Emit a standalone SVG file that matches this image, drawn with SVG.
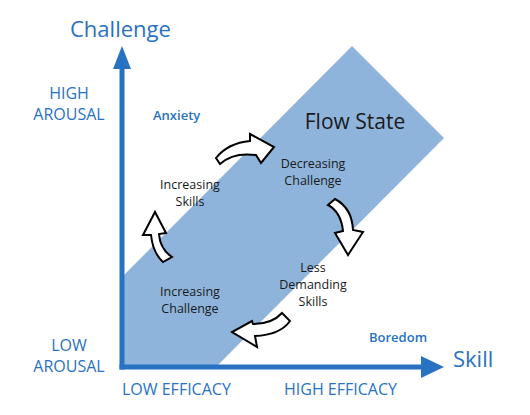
<svg xmlns="http://www.w3.org/2000/svg" width="530" height="415" viewBox="0 0 530 415">
<style>
.ax{fill:#2872c2;font-family:"Open Sans","Liberation Sans",sans-serif}
.big{font-size:22px}
.lbl{font-size:16px}
.sm{font-size:13px;font-weight:600}
.blk{fill:#1a1a1a;font-family:"Open Sans","Liberation Sans",sans-serif;font-size:12.5px;text-anchor:middle}
.arr{fill:#ffffff;stroke:#000000;stroke-width:2;stroke-linejoin:miter}
</style>
<rect width="530" height="415" fill="#ffffff"/>
<g id="flow-band">
<polygon points="122,277 352,46 444,138 216,367 122,367" fill="#8fb4db"/>
<text x="355" y="129" fill="#1a1a1a" font-family="'Open Sans','Liberation Sans',sans-serif" font-size="21" text-anchor="middle">Flow State</text>
</g>
<g id="axes">
<line x1="122" y1="369.5" x2="122" y2="66" stroke="#2872c2" stroke-width="5"/>
<polygon points="122,46 131,69 113,69" fill="#2872c2"/>
<line x1="119.5" y1="367" x2="424" y2="367" stroke="#2872c2" stroke-width="5"/>
<polygon points="444,367 421,356 421,378" fill="#2872c2"/>
<text class="ax big" x="70" y="37">Challenge</text>
<text class="ax big" x="453" y="367">Skill</text>
</g>
<g id="axis-labels">
<text class="ax lbl" x="69" y="99" text-anchor="middle">HIGH</text>
<text class="ax lbl" x="69" y="120" text-anchor="middle">AROUSAL</text>
<text class="ax lbl" x="69" y="351" text-anchor="middle">LOW</text>
<text class="ax lbl" x="69" y="372" text-anchor="middle">AROUSAL</text>
<text class="ax lbl" x="122" y="395">LOW EFFICACY</text>
<text class="ax lbl" x="284" y="395">HIGH EFFICACY</text>
</g>
<g id="anxiety"><text class="ax sm" x="153" y="120">Anxiety</text></g>
<g id="boredom"><text class="ax sm" x="369" y="342">Boredom</text></g>
<g id="decreasing-challenge">
<text class="blk" x="313" y="168">Decreasing</text>
<text class="blk" x="313" y="185">Challenge</text>
</g>
<g id="less-demanding-skills">
<text class="blk" x="313" y="272">Less</text>
<text class="blk" x="313" y="289">Demanding</text>
<text class="blk" x="313" y="306">Skills</text>
</g>
<g id="increasing-skills">
<text class="blk" x="190" y="189">Increasing</text>
<text class="blk" x="190" y="206">Skills</text>
</g>
<g id="increasing-challenge">
<text class="blk" x="190" y="296">Increasing</text>
<text class="blk" x="190" y="313">Challenge</text>
</g>
<g id="connectors">
<path class="arr" d="M216,158 Q228,143 250,141 L250,134 L274,147 L261,163 L256,155 Q233,152 220,164 Z"/>
<path class="arr" d="M335,199 Q352,208 353,230 L363,232 L348,255 L335,233 L343,231 Q341,212 328,205 Z"/>
<path class="arr" d="M282,313 Q272,324 253,324 L252,321 L232,332 L257,347 L255,336 Q280,335 290,321 Z"/>
<path class="arr" d="M151,235 Q153,253 163,262 L172,257 Q160,249 159,234 L166,233 L155,212 L143,235 Z"/>
</g>
</svg>
